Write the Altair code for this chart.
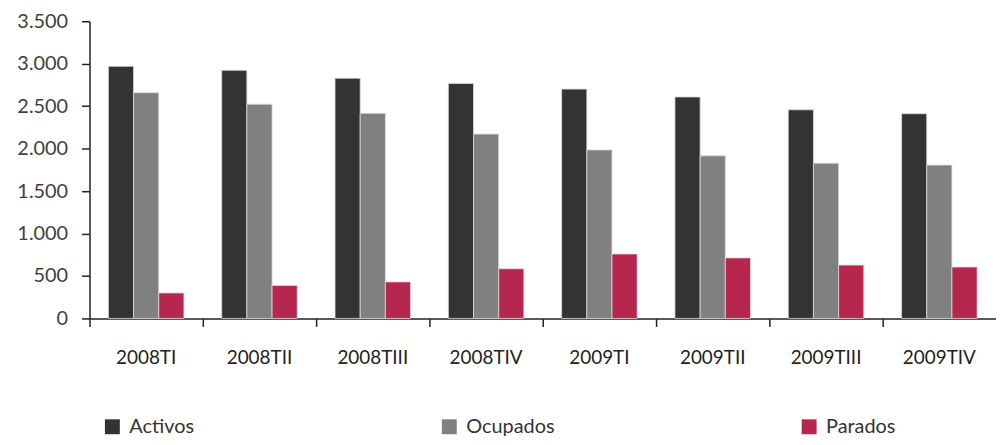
import altair as alt
import pandas as pd

periods = ["2008TI", "2008TII", "2008TIII", "2008TIV", "2009TI", "2009TII", "2009TIII", "2009TIV"]
series = ["Activos", "Ocupados", "Parados"]
activos = [2969, 2922, 2829, 2767, 2701, 2608, 2457, 2411]
ocupados = [2659, 2523, 2415, 2171, 1985, 1915, 1829, 1806]
parados = [300, 388, 430, 585, 759, 713, 628, 605]
y_ticks = [0, 500, 1000, 1500, 2000, 2500, 3000, 3500]
colors = ["#333333", "#808080", "#B5274F"]

rows = []
for i, p in enumerate(periods):
    for s, vals in zip(series, [activos, ocupados, parados]):
        rows.append({"periodo": p, "serie": s, "valor": vals[i]})
df = pd.DataFrame(rows)

font = "Lato"

chart = alt.Chart(df).mark_bar(stroke="#dcdcdc", strokeWidth=0.8).encode(
    x=alt.X("periodo:N", sort=periods, title=None,
            scale=alt.Scale(paddingInner=0, paddingOuter=0),
            axis=alt.Axis(labelAngle=0, bandPosition=0, ticks=True, tickSize=8,
                          tickColor="#222222", domainColor="#222222", domainWidth=1.5,
                          tickWidth=1.5, labelPadding=22, labelFontSize=19,
                          labelColor="#222222", labelFont=font, grid=False)),
    xOffset=alt.XOffset("serie:N", sort=series,
                        scale=alt.Scale(paddingInner=0, paddingOuter=0.75)),
    y=alt.Y("valor:Q", title=None,
            scale=alt.Scale(domain=[0, 3500], nice=False),
            axis=alt.Axis(values=y_ticks, grid=False, tickSize=8, tickColor="#222222",
                          domainColor="#222222", domainWidth=1.5, tickWidth=1.5,
                          labelPadding=14, labelFontSize=20, labelColor="#404040",
                          labelFont=font,
                          labelExpr="replace(format(datum.value, ','), ',', '.')")),
    color=alt.Color("serie:N", sort=series,
                    scale=alt.Scale(domain=series, range=colors),
                    legend=alt.Legend(title=None, orient="none", legendX=13, legendY=398,
                                      direction="horizontal", columns=3,
                                      gridAlign="none", columnPadding=246,
                                      symbolType="square", symbolSize=225,
                                      symbolStrokeWidth=0, labelOffset=7,
                                      labelFontSize=20, labelColor="#333333",
                                      labelFont=font)),
).properties(
    width=912,
    height=299,
    autosize=alt.AutoSizeParams(type="none"),
    padding={"left": 82, "top": 12, "right": 0, "bottom": 123},
).configure_view(stroke=None)

chart.save("out.html", embed_options={"renderer": "svg", "actions": False})
